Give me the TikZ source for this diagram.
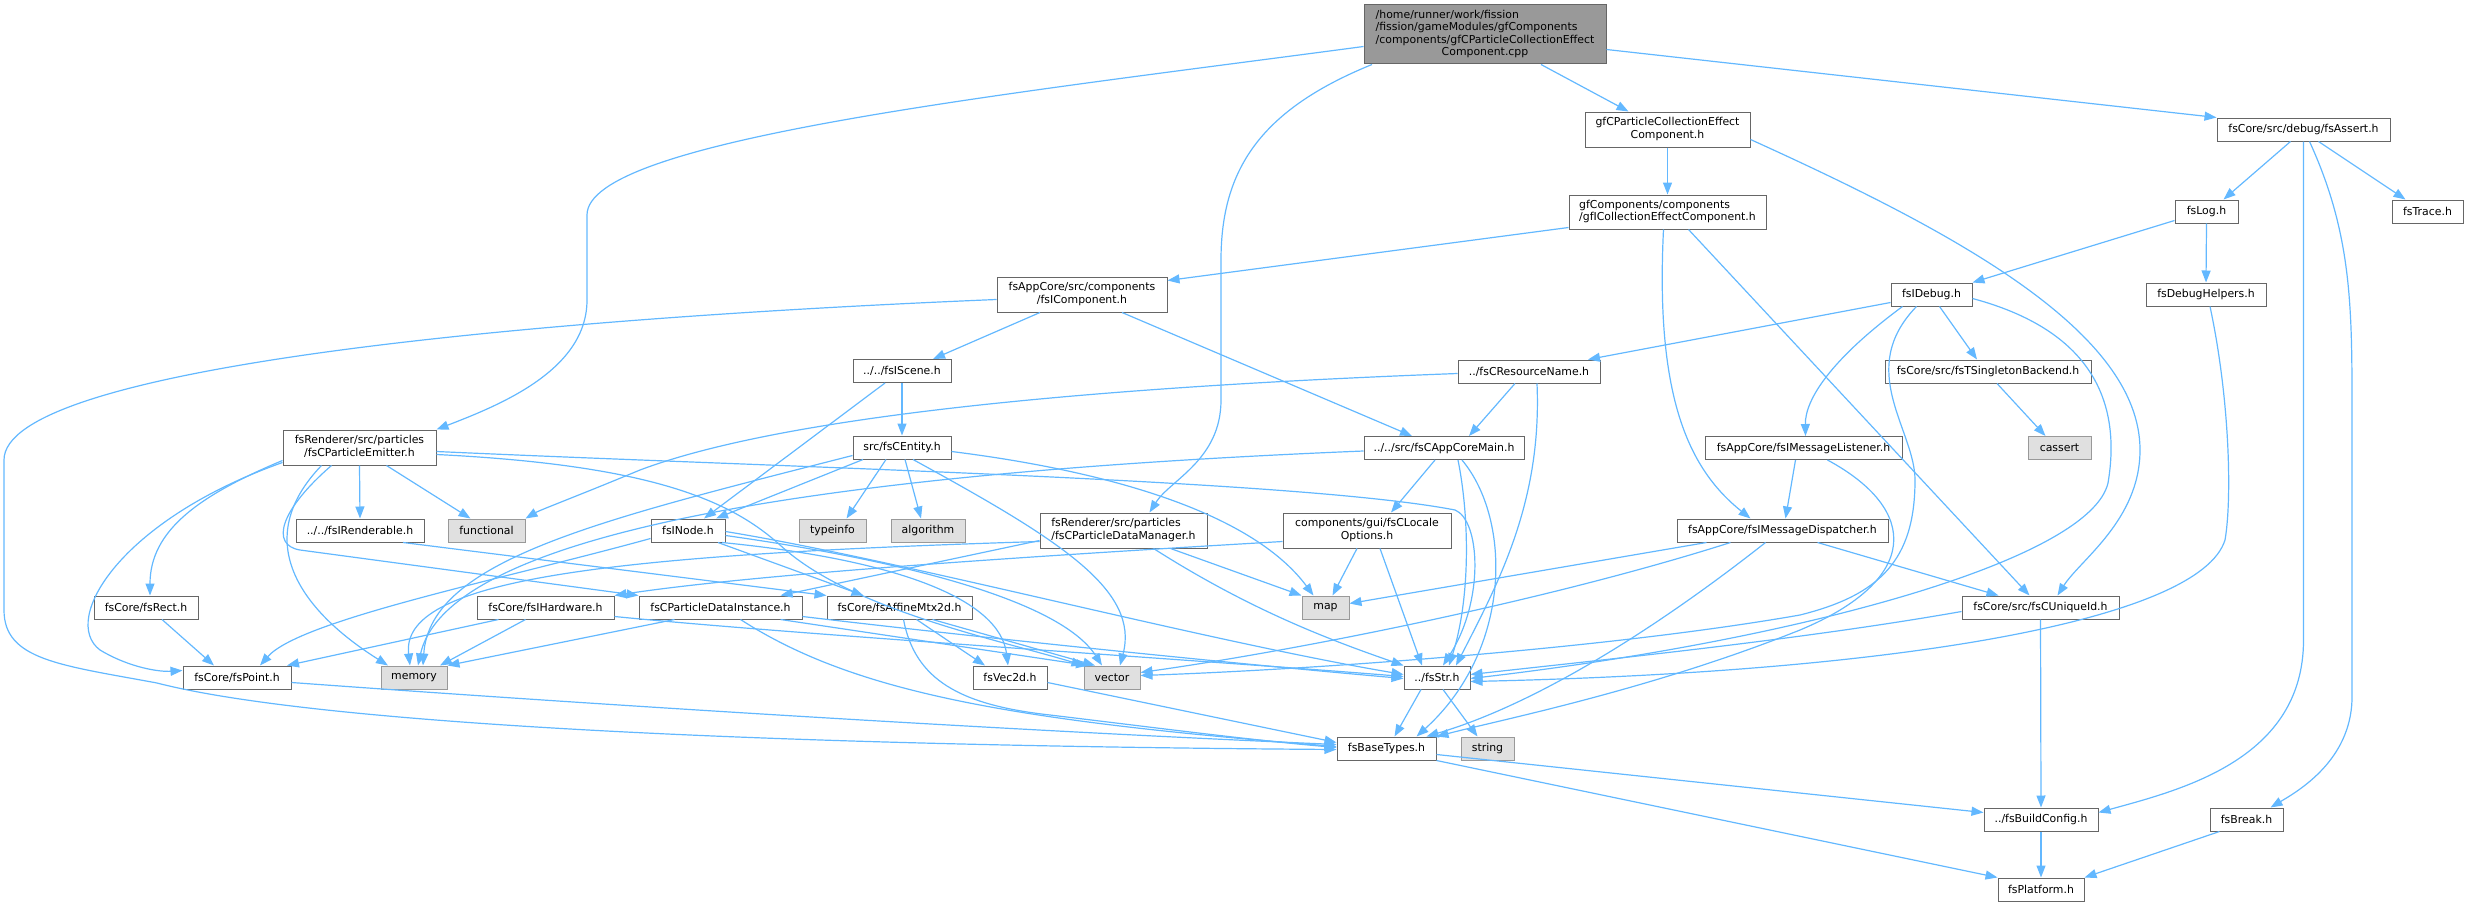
\documentclass[tikz,border=0pt]{standalone}
\usepackage{fontspec}
\setmainfont{DejaVu Sans}
\usetikzlibrary{arrows.meta}
\definecolor{edgeblue}{HTML}{63B8FF}
\definecolor{nodegray}{HTML}{666666}
\definecolor{extfill}{HTML}{E0E0E0}
\definecolor{extdraw}{HTML}{999999}
\definecolor{rootfill}{HTML}{999999}
\newcommand{\twol}[2]{\begin{tabular}{@{}l@{}}#1\\\multicolumn{1}{@{}c@{}}{#2}\end{tabular}}
\newcommand{\nd}[7]{\node[#6, minimum width=#4pt, minimum height=#5pt] (#1) at (#2,#3) {#7};}
\tikzset{
  box/.style={draw=nodegray, fill=white, line width=1pt, inner sep=0pt, text=black,
              font=\fontsize{10.9}{12.2}\selectfont},
  ext/.style={box, fill=extfill, draw=extdraw},
  rootbox/.style={box, fill=rootfill},
  edge/.style={draw=edgeblue, line width=1.2pt, -{Triangle[length=12pt,width=9pt]}},
}
\begin{document}
\begin{tikzpicture}[x=1pt,y=-1pt]
\useasboundingbox (0,0) rectangle (2469,907);
% nodes
\nd{root}{1485}{34.5}{242}{59}{rootbox}{\begin{tabular}{@{}l@{}}/home/runner/work/fission\\/fission/gameModules/gfComponents\\/components/gfCParticleCollectionEffect\\\multicolumn{1}{@{}c@{}}{Component.cpp}\end{tabular}}
\nd{gfcpcec}{1667.5}{129.5}{165}{35}{box}{\twol{gfCParticleCollectionEffect}{Component.h}}
\nd{assert}{2303.5}{129.5}{173}{23}{box}{fsCore/src/debug/fsAssert.h}
\nd{gfic}{1667.5}{212}{197}{34}{box}{\twol{gfComponents/components}{/gfICollectionEffectComponent.h}}
\nd{log}{2206.5}{211.5}{63}{23}{box}{fsLog.h}
\nd{trace}{2427.5}{211.5}{71}{23}{box}{fsTrace.h}
\nd{icomp}{1082}{294.5}{170}{35}{box}{\twol{fsAppCore/src/components}{/fsIComponent.h}}
\nd{idebug}{1931.5}{294.5}{81}{23}{box}{fsIDebug.h}
\nd{dbghelp}{2206}{294.5}{120}{23}{box}{fsDebugHelpers.h}
\nd{scene}{902}{371}{98}{23}{box}{../../fsIScene.h}
\nd{resname}{1529}{371.5}{142}{23}{box}{../fsCResourceName.h}
\nd{singleton}{1988}{371.5}{206}{23}{box}{fsCore/src/fsTSingletonBackend.h}
\nd{emitter}{359.5}{447.5}{153}{35}{box}{\twol{fsRenderer/src/particles}{/fsCParticleEmitter.h}}
\nd{entity}{902}{447.5}{98}{23}{box}{src/fsCEntity.h}
\nd{appcore}{1444}{448}{160}{23}{box}{../../src/fsCAppCoreMain.h}
\nd{listener}{1803.5}{448}{197}{23}{box}{fsAppCore/fsIMessageListener.h}
\nd{cassert}{2059.5}{448}{63}{23}{ext}{cassert}
\nd{renderable}{360}{530.5}{128}{23}{box}{../../fsIRenderable.h}
\nd{functional}{486.5}{530.5}{77}{23}{ext}{functional}
\nd{inode}{688}{530.5}{74}{23}{box}{fsINode.h}
\nd{typeinfo}{832.5}{530.5}{67}{23}{ext}{typeinfo}
\nd{algorithm}{928}{530.5}{74}{23}{ext}{algorithm}
\nd{datamgr}{1123.5}{530.5}{167}{35}{box}{\twol{fsRenderer/src/particles}{/fsCParticleDataManager.h}}
\nd{locale}{1367}{530.5}{168}{35}{box}{\twol{components/gui/fsCLocale}{Options.h}}
\nd{dispatcher}{1782.5}{530.5}{211}{23}{box}{fsAppCore/fsIMessageDispatcher.h}
\nd{rect}{146}{607.5}{104}{23}{box}{fsCore/fsRect.h}
\nd{hardware}{545.5}{607.5}{137}{23}{box}{fsCore/fsIHardware.h}
\nd{datainst}{720.5}{607.5}{163}{23}{box}{fsCParticleDataInstance.h}
\nd{affine}{899.5}{607.5}{145}{23}{box}{fsCore/fsAffineMtx2d.h}
\nd{map}{1325.5}{607.5}{47}{23}{ext}{map}
\nd{uniqueid}{2040.5}{607.5}{157}{23}{box}{fsCore/src/fsCUniqueId.h}
\nd{point}{237}{677.5}{108}{23}{box}{fsCore/fsPoint.h}
\nd{memory}{414}{677.5}{66}{23}{ext}{memory}
\nd{vec2d}{1010}{677.5}{74}{23}{box}{fsVec2d.h}
\nd{vector}{1112}{677.5}{56}{23}{ext}{vector}
\nd{str}{1437}{677.5}{66}{23}{box}{../fsStr.h}
\nd{basetypes}{1386.5}{748.5}{99}{23}{box}{fsBaseTypes.h}
\nd{string}{1487.5}{748.5}{53}{23}{ext}{string}
\nd{buildcfg}{2041}{819.5}{114}{23}{box}{../fsBuildConfig.h}
\nd{break}{2246.5}{819.5}{73}{23}{box}{fsBreak.h}
\nd{platform}{2041}{889.5}{86}{23}{box}{fsPlatform.h}
% root edges
\draw[edge] ([yshift=-12pt]root.west) .. controls (1000,95) and (587,140) .. (587,215) -- (587,300) .. controls (587,370) and (500,405) .. (emitter.north east);
\draw[edge] ([xshift=-113pt]root.south) .. controls (1260,110) and (1221,170) .. (1221,260) -- (1221,400) .. controls (1221,460) and (1170,480) .. ([xshift=26pt]datamgr.north);
\draw[edge] ([xshift=56pt]root.south) -- ([xshift=-39pt]gfcpcec.north);
\draw[edge] ([yshift=-15pt]root.east) -- (assert.north west);
% gfcpcec
\draw[edge] (gfcpcec.south) -- (gfic.north);
\draw[edge] ([yshift=-10pt]gfcpcec.east) .. controls (1950,230) and (2140,330) .. (2140,450) .. controls (2140,520) and (2080,560) .. ([xshift=17pt]uniqueid.north);
% gfic
\draw[edge] ([yshift=2pt]gfic.south west) -- ([yshift=-4pt]icomp.north east);
\draw[edge] ([xshift=-4pt]gfic.south) .. controls (1655,400) and (1690,470) .. ([xshift=-32pt]dispatcher.north);
\draw[edge] ([xshift=21pt]gfic.south) -- ([xshift=-11pt]uniqueid.north);
% icomp
\draw[edge] ([xshift=-42pt]icomp.south) -- ([xshift=31pt]scene.north);
\draw[edge] ([xshift=40pt]icomp.south) -- ([xshift=-32pt]appcore.north);
\draw[edge] ([yshift=-5pt]icomp.west) .. controls (500,320) and (4,370) .. (4,460) -- (4,610) .. controls (4,660) and (60,665) .. (157,683) .. controls (300,720) and (700,745) .. ([yshift=-1pt]basetypes.west);
% scene
\draw[edge] (scene.south) -- (entity.north);
\draw[edge] ([xshift=-17pt]scene.south) -- ([xshift=16pt]inode.north);
% entity
\draw[edge] ([xshift=-39pt]entity.south) -- ([xshift=28pt]inode.north);
\draw[edge] ([xshift=-16pt]entity.south) -- ([xshift=14pt]typeinfo.north);
\draw[edge] ([xshift=3pt]entity.south) -- ([xshift=-7pt]algorithm.north);
\draw[edge] ([yshift=-4pt]entity.east) .. controls (1100,470) and (1250,510) .. ([xshift=-12pt]map.north);
\draw[edge] ([xshift=11pt]entity.south) .. controls (1060,540) and (1140,590) .. ([xshift=8pt]vector.north);
\draw[edge] ([yshift=-8pt]entity.west) .. controls (600,520) and (430,560) .. ([xshift=9pt]memory.north);
% inode
\draw[edge] ([yshift=-8pt]inode.west) .. controls (500,580) and (300,620) .. ([xshift=23pt]point.north);
\draw[edge] ([xshift=30pt]inode.south) -- ([xshift=-36pt]affine.north);
\draw[edge] ([xshift=34pt]inode.south) .. controls (900,560) and (1000,600) .. ([xshift=-2pt]vec2d.north);
\draw[edge] ([yshift=-5pt]inode.east) .. controls (900,560) and (1060,600) .. ([xshift=-10pt]vector.north);
\draw[edge] ([yshift=-1pt]inode.east) .. controls (900,560) and (1200,640) .. ([yshift=3pt]str.west);
% emitter
\draw[edge] (emitter.south) -- (renderable.north);
\draw[edge] ([xshift=27pt]emitter.south) -- ([xshift=-16pt]functional.north);
\draw[edge] ([yshift=-13pt]emitter.west) .. controls (200,495) and (150,530) .. ([xshift=4pt]rect.north);
\draw[edge] ([yshift=-15pt]emitter.west) .. controls (120,520) and (60,620) .. (100,650) .. controls (130,668) and (160,672) .. ([yshift=7pt]point.west);
\draw[edge] ([xshift=-38pt]emitter.south) .. controls (250,540) and (300,610) .. ([xshift=-26pt]memory.north);
\draw[edge] ([xshift=-28pt]emitter.south) .. controls (280,510) and (270,545) .. (300,550) -- (datainst.north west);
\draw[edge] ([yshift=-7pt]emitter.east) .. controls (650,465) and (730,500) .. (780,545) .. controls (850,610) and (1000,640) .. (vector.north west);
\draw[edge] ([yshift=-4pt]emitter.east) .. controls (800,468) and (1300,480) .. (1455,510) .. controls (1480,520) and (1485,600) .. ([xshift=6pt]str.north);
% renderable, rect, point
\draw[edge] ([xshift=43pt]renderable.south) -- (affine.north west);
\draw[edge] ([xshift=16pt]rect.south) -- ([xshift=-23pt]point.north);
\draw[edge] ([yshift=-5pt]point.east) .. controls (600,705) and (1000,730) .. ([yshift=4pt]basetypes.west);
% hardware
\draw[edge] ([xshift=-47pt]hardware.south) -- ([xshift=50pt]point.north);
\draw[edge] ([xshift=-20pt]hardware.south) -- ([xshift=26pt]memory.north);
\draw[edge] ([yshift=-9pt]hardware.east) .. controls (800,635) and (1200,660) .. ([yshift=1pt]str.west);
% datainst
\draw[edge] ([xshift=-46pt]datainst.south) -- (memory.north east);
\draw[edge] ([xshift=20pt]datainst.south) .. controls (850,690) and (1000,720) .. ([yshift=2pt]basetypes.west);
\draw[edge] ([xshift=60pt]datainst.south) -- ([xshift=-24pt]vector.north);
\draw[edge] ([yshift=-9pt]datainst.east) .. controls (1000,640) and (1250,665) .. ([yshift=-1pt]str.west);
% affine
\draw[edge] ([xshift=17pt]affine.south) -- ([xshift=-25pt]vec2d.north);
\draw[edge] ([xshift=33pt]affine.south) -- ([xshift=-17pt]vector.north);
\draw[edge] ([xshift=4pt]affine.south) .. controls (915,680) and (960,705) .. (1050,715) .. controls (1150,727) and (1250,740) .. ([yshift=1pt]basetypes.west);
\draw[edge] ([yshift=-5pt]vec2d.east) -- ([yshift=6pt]basetypes.west);
% datamgr
\draw[edge] ([yshift=-10pt]datamgr.west) -- ([xshift=60pt]datainst.north);
\draw[edge] ([yshift=-11pt]datamgr.west) .. controls (600,555) and (400,580) .. ([xshift=-4pt]memory.north);
\draw[edge] ([xshift=47pt]datamgr.south) -- (map.north west);
\draw[edge] ([xshift=30pt]datamgr.south) .. controls (1250,610) and (1330,640) .. (str.north west);
% locale
\draw[edge] ([xshift=-10pt]locale.south) -- ([xshift=7pt]map.north);
\draw[edge] ([xshift=13pt]locale.south) -- ([xshift=-15pt]str.north);
\draw[edge] ([yshift=-11pt]locale.west) .. controls (1000,558) and (750,575) .. (hardware.north east);
% appcore
\draw[edge] ([xshift=-9pt]appcore.south) -- ([xshift=24pt]locale.north);
\draw[edge] ([xshift=14pt]appcore.south) .. controls (1470,520) and (1470,600) .. ([xshift=12pt]str.north);
\draw[edge] ([xshift=18pt]appcore.south) .. controls (1512,520) and (1512,650) .. ([xshift=30pt]basetypes.north);
\draw[edge] ([yshift=-3pt]appcore.west) .. controls (900,470) and (450,520) .. ([xshift=4pt]memory.north);
% resname
\draw[edge] ([xshift=-14pt]resname.south) -- ([xshift=25pt]appcore.north);
\draw[edge] ([yshift=-2pt]resname.west) .. controls (1150,385) and (800,410) .. (640,470) .. controls (580,495) and (540,510) .. (functional.north east);
\draw[edge] ([xshift=8pt]resname.south) .. controls (1542,500) and (1500,580) .. ([xshift=19pt]str.north);
% idebug
\draw[edge] ([yshift=-8pt]idebug.west) -- ([xshift=59pt]resname.north);
\draw[edge] ([xshift=8pt]idebug.south) -- ([xshift=-11pt]singleton.north);
\draw[edge] ([xshift=-29pt]idebug.south) .. controls (1830,360) and (1805,400) .. ([xshift=2pt]listener.north);
\draw[edge] ([xshift=-15pt]idebug.south) .. controls (1855,370) and (1915,430) .. (1915,480) .. controls (1915,560) and (1880,595) .. (1800,615) .. controls (1600,650) and (1300,670) .. ([yshift=2pt]vector.east);
\draw[edge] ([yshift=-4pt]idebug.east) .. controls (2090,330) and (2122,400) .. (2108,483) .. controls (2090,560) and (1800,640) .. ([yshift=-1pt]str.east);
\draw[edge] ([xshift=9pt]singleton.south) -- ([xshift=-14pt]cassert.north);
% listener
\draw[edge] ([xshift=-8pt]listener.south) -- ([xshift=3pt]dispatcher.north);
\draw[edge] ([xshift=24pt]listener.south) .. controls (1920,510) and (1920,580) .. (1800,630) .. controls (1650,690) and (1500,720) .. (basetypes.north east);
% dispatcher
\draw[edge] ([xshift=-76pt]dispatcher.south) -- ([yshift=4pt]map.east);
\draw[edge] ([xshift=-52pt]dispatcher.south) .. controls (1550,600) and (1300,650) .. ([yshift=5pt]vector.east);
\draw[edge] ([xshift=-17pt]dispatcher.south) .. controls (1680,610) and (1550,700) .. ([xshift=40pt]basetypes.north);
\draw[edge] ([xshift=35pt]dispatcher.south) -- ([xshift=-42pt]uniqueid.north);
% uniqueid
\draw[edge] (uniqueid.south) -- (buildcfg.north);
\draw[edge] ([yshift=-4pt]uniqueid.west) .. controls (1800,640) and (1600,660) .. ([yshift=3pt]str.east);
% debug helpers, log, assert
\draw[edge] ([xshift=4pt]dbghelp.south) .. controls (2230,400) and (2232,500) .. (2225,540) .. controls (2200,620) and (1900,672) .. ([yshift=-4pt]str.east);
\draw[edge] ([yshift=-9pt]log.west) -- (idebug.north east);
\draw[edge] (log.south) -- (dbghelp.north);
\draw[edge] ([xshift=-13pt]assert.south) -- ([xshift=17pt]log.north);
\draw[edge] ([xshift=15pt]assert.south) -- ([xshift=-22pt]trace.north);
\draw[edge] (assert.south) -- (2303.5,640) .. controls (2303.5,760) and (2180,790) .. ([yshift=7pt]buildcfg.east);
\draw[edge] ([xshift=6pt]assert.south) .. controls (2350,230) and (2352,300) .. (2352,400) -- (2352,700) .. controls (2350,760) and (2300,790) .. ([xshift=24pt]break.north);
% bottom
\draw[edge] ([yshift=-6pt]basetypes.east) -- ([yshift=7pt]buildcfg.west);
\draw[edge] (basetypes.south east) -- (platform.north west);
\draw[edge] ([xshift=-16pt]str.south) -- ([xshift=8pt]basetypes.north);
\draw[edge] ([xshift=6pt]str.south) -- ([xshift=-10pt]string.north);
\draw[edge] (buildcfg.south) -- (platform.north);
\draw[edge] ([xshift=-27pt]break.south) -- (platform.north east);
\end{tikzpicture}
\end{document}
